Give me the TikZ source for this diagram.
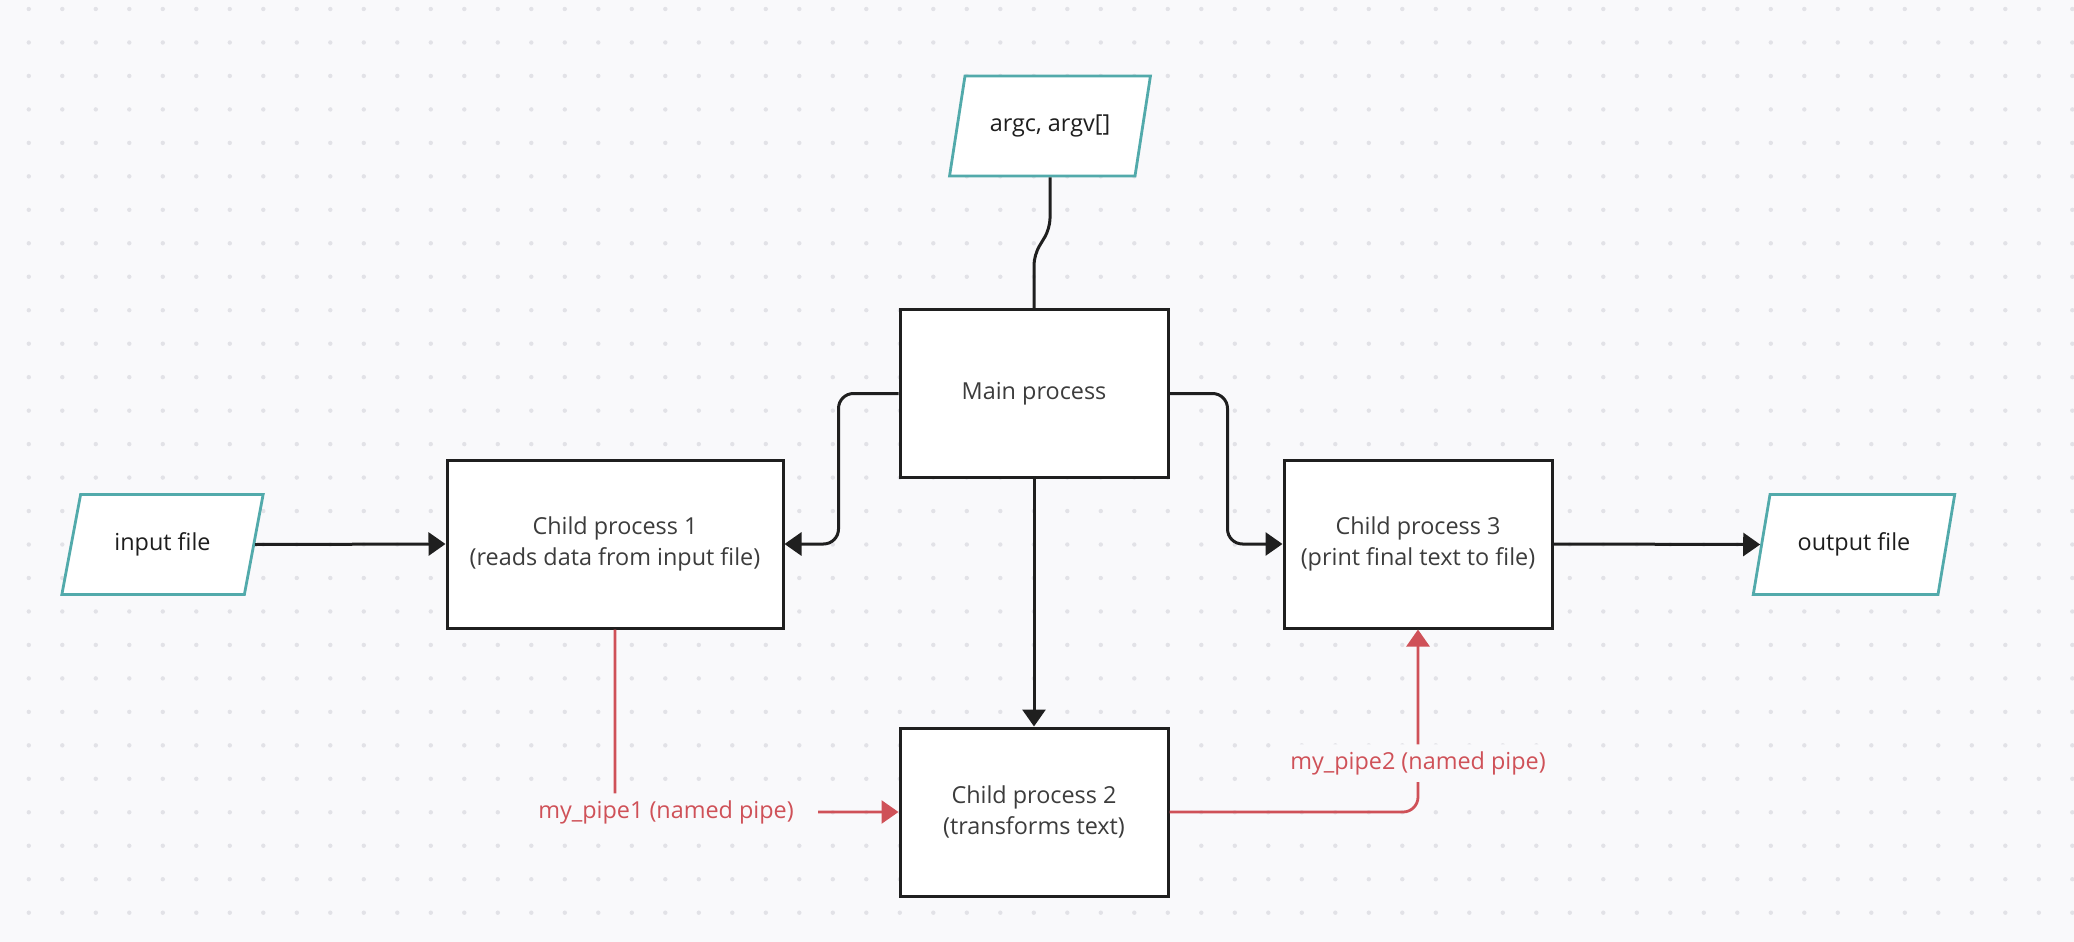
\documentclass[tikz,border=0pt]{standalone}
\usepackage{fontspec}
\setmainfont{Open Sans}
\usetikzlibrary{arrows.meta,shapes.geometric}
\definecolor{canvas}{HTML}{F9F9FB}
\definecolor{griddot}{HTML}{E2E2E7}
\definecolor{ioline}{HTML}{52AAAB}
\definecolor{pipered}{HTML}{CF5158}
\definecolor{boxtext}{HTML}{3C3C3C}
\definecolor{iotext}{HTML}{1E1E1E}
\tikzset{
    proc/.style={rectangle, draw=black!88, fill=white, line width=1.5pt, minimum width=134pt, minimum height=84pt, align=center, text=boxtext},
    io/.style={trapezium, trapezium left angle=71.2, trapezium right angle=108.8, trapezium stretches=true, minimum width=101pt, minimum height=50pt, draw=ioline, fill=white, line width=1.4pt, text=iotext},
    flow/.style={draw=black!88, line width=1.5pt, -{Triangle[length=8.5pt,width=11.5pt]}},
    pipe/.style={draw=pipered, line width=1.4pt, -{Triangle[length=8.5pt,width=11.5pt]}},
    pipelabel/.style={fill=canvas, text=pipered, inner xsep=12pt, inner ysep=3.5pt}
}

\begin{document}
\begin{tikzpicture}
  [
    x                       = 0.5pt,
    y                       = -0.5pt,
    every node/.style       = {font=\fontsize{11.7}{15.5}\selectfont},
  ]
  % canvas and dot grid
  \fill[canvas] (0,0) rectangle (2074,942);
  \useasboundingbox (0,0) rectangle (2074,942);
  \foreach \i in {0,...,61}
    \foreach \j in {0,...,27}
      \fill[griddot] (28.8+33.5*\i, 9+33.47*\j) circle (1.1pt);

  % nodes
  \node [io]   (argc)    at (1050,126)   {argc, argv[]};
  \node [proc] (main)    at (1034,393.5) {Main process};
  \node [proc, minimum width=168pt] (child1) at (615,544) {Child process 1\\(reads data from input file)};
  \node [proc] (child2)  at (1034,812)   {Child process 2\\(transforms text)};
  \node [proc] (child3)  at (1418,544)   {Child process 3\\(print final text to file)};
  \node [io]   (infile)  at (162.5,544.5) {input file};
  \node [io]   (outfile) at (1854,544.5) {output file};

  % connectors
  \draw [flow, -, rounded corners=5pt] (argc.south) -- ++(0,51) -- ([yshift=26.5pt]main.north) -- (main.north);
  \draw [flow, rounded corners=7.5pt] (main.west) -- ++(-60,0) |- (child1.east);
  \draw [flow, rounded corners=7.5pt] (main.east) -- ++(58,0) |- (child3.west);
  \draw [flow] (main.south) -- (child2.north);
  \draw [flow] (infile.east) -- (child1.west);
  \draw [flow] (child3.east) -- (outfile.west);

  % named pipes
  \draw [pipe, rounded corners=7.5pt] (child1.south) |- node [pipelabel, pos=0.59] {my\_pipe1 (named pipe)} (child2.west);
  \draw [pipe, rounded corners=7.5pt] (child2.east) -| node [pipelabel, pos=0.634] {my\_pipe2 (named pipe)} (child3.south);
\end{tikzpicture}
\end{document}
